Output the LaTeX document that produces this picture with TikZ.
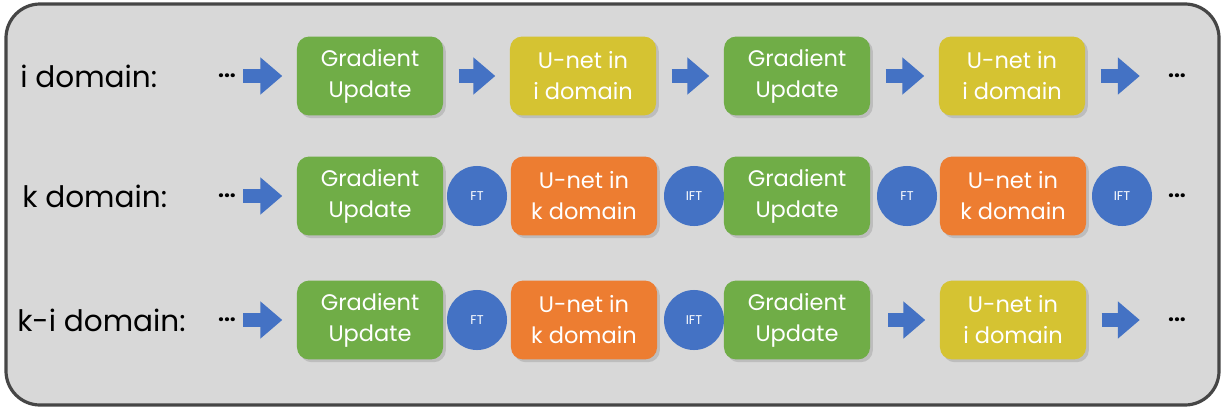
\documentclass[tikz,border=0pt]{standalone}
\usepackage{fontspec}
\setmainfont{Poppins}
\usetikzlibrary{arrows.meta,shadows}

\definecolor{panelgrey}{HTML}{D8D8D8}
\definecolor{framegrey}{HTML}{464646}
\definecolor{gradgreen}{HTML}{70AD47}
\definecolor{unetyellow}{HTML}{D5C332}
\definecolor{unetorange}{HTML}{ED7D31}
\definecolor{flowblue}{HTML}{4472C4}

\tikzset{
  box/.style={rounded corners=0.3cm, minimum width=3.65cm, minimum height=1.97cm,
    align=center, text=white, font=\fontsize{16}{22}\selectfont,
    drop shadow={opacity=0.3, shadow xshift=0.07cm, shadow yshift=-0.07cm}},
  grad/.style={box, fill=gradgreen},
  unetI/.style={box, fill=unetyellow},
  unetK/.style={box, fill=unetorange},
  ftcirc/.style={circle, fill=flowblue, minimum size=1.5cm, inner sep=0pt,
    text=white, font=\fontsize{9}{9}\selectfont},
  rowlabel/.style={anchor=west, inner sep=0pt, font=\fontsize{21}{24}\selectfont},
  dots/.style={inner sep=0pt, font=\bfseries\fontsize{15}{15}\selectfont},
  flow/.style={line width=0.33cm, flowblue, -{Triangle[length=0.55cm,width=0.9cm]},
    shorten <=0.38cm, shorten >=0.36cm},
}

\begin{document}
\begin{tikzpicture}[x=0.025cm, y=-0.025cm]
\useasboundingbox (0,0) rectangle (1222,408);
\draw [line width=0.08cm, draw=framegrey, fill=panelgrey, rounded corners=0.85cm] (6,4) rectangle (1219,405);

% i domain
\node [rowlabel] (labI) at (20,76) {i domain:};
\node [dots] (inI) at (227,76) {...};
\node [grad] (gI1) at (370,76) {Gradient\\Update};
\node [unetI] (uI1) at (583,76) {U-net in\\i domain};
\node [grad] (gI2) at (797,76) {Gradient\\Update};
\node [unetI] (uI2) at (1012,76) {U-net in\\i domain};
\node [dots] (outI) at (1177,76) {...};
\draw [flow, shorten <=0.18cm] (inI) -- (gI1);
\draw [flow] (gI1) -- (uI1);
\draw [flow] (uI1) -- (gI2);
\draw [flow] (gI2) -- (uI2);
\draw [flow, shorten >=0.7cm] (uI2) -- (outI);

% k domain
\node [rowlabel] (labK) at (22,196) {k domain:};
\node [dots] (inK) at (227,196) {...};
\node [grad] (gK1) at (370,196) {Gradient\\Update};
\node [ftcirc] (ftK1) at (477,196) {FT};
\node [unetK] (uK1) at (584,196) {U-net in\\k domain};
\node [ftcirc] (iftK1) at (694,196) {IFT};
\node [grad] (gK2) at (797,196) {Gradient\\Update};
\node [ftcirc] (ftK2) at (907,196) {FT};
\node [unetK] (uK2) at (1013,196) {U-net in\\k domain};
\node [ftcirc] (iftK2) at (1122,196) {IFT};
\node [dots] (outK) at (1177,196) {...};
\draw [flow, shorten <=0.18cm] (inK) -- (gK1);

% k-i domain
\node [rowlabel] (labKI) at (17,320) {k-i domain:};
\node [dots] (inKI) at (227,320) {...};
\node [grad] (gKI1) at (370,320) {Gradient\\Update};
\node [ftcirc] (ftKI) at (477,320) {FT};
\node [unetK] (uKI) at (584,320) {U-net in\\k domain};
\node [ftcirc] (iftKI) at (694,320) {IFT};
\node [grad] (gKI2) at (797,320) {Gradient\\Update};
\node [unetI] (uKI2) at (1013,320) {U-net in\\i domain};
\node [dots] (outKI) at (1177,320) {...};
\draw [flow, shorten <=0.18cm] (inKI) -- (gKI1);
\draw [flow, shorten <=0.45cm] (gKI2) -- (uKI2);
\draw [flow, shorten >=0.7cm] (uKI2) -- (outKI);
\end{tikzpicture}
\end{document}
